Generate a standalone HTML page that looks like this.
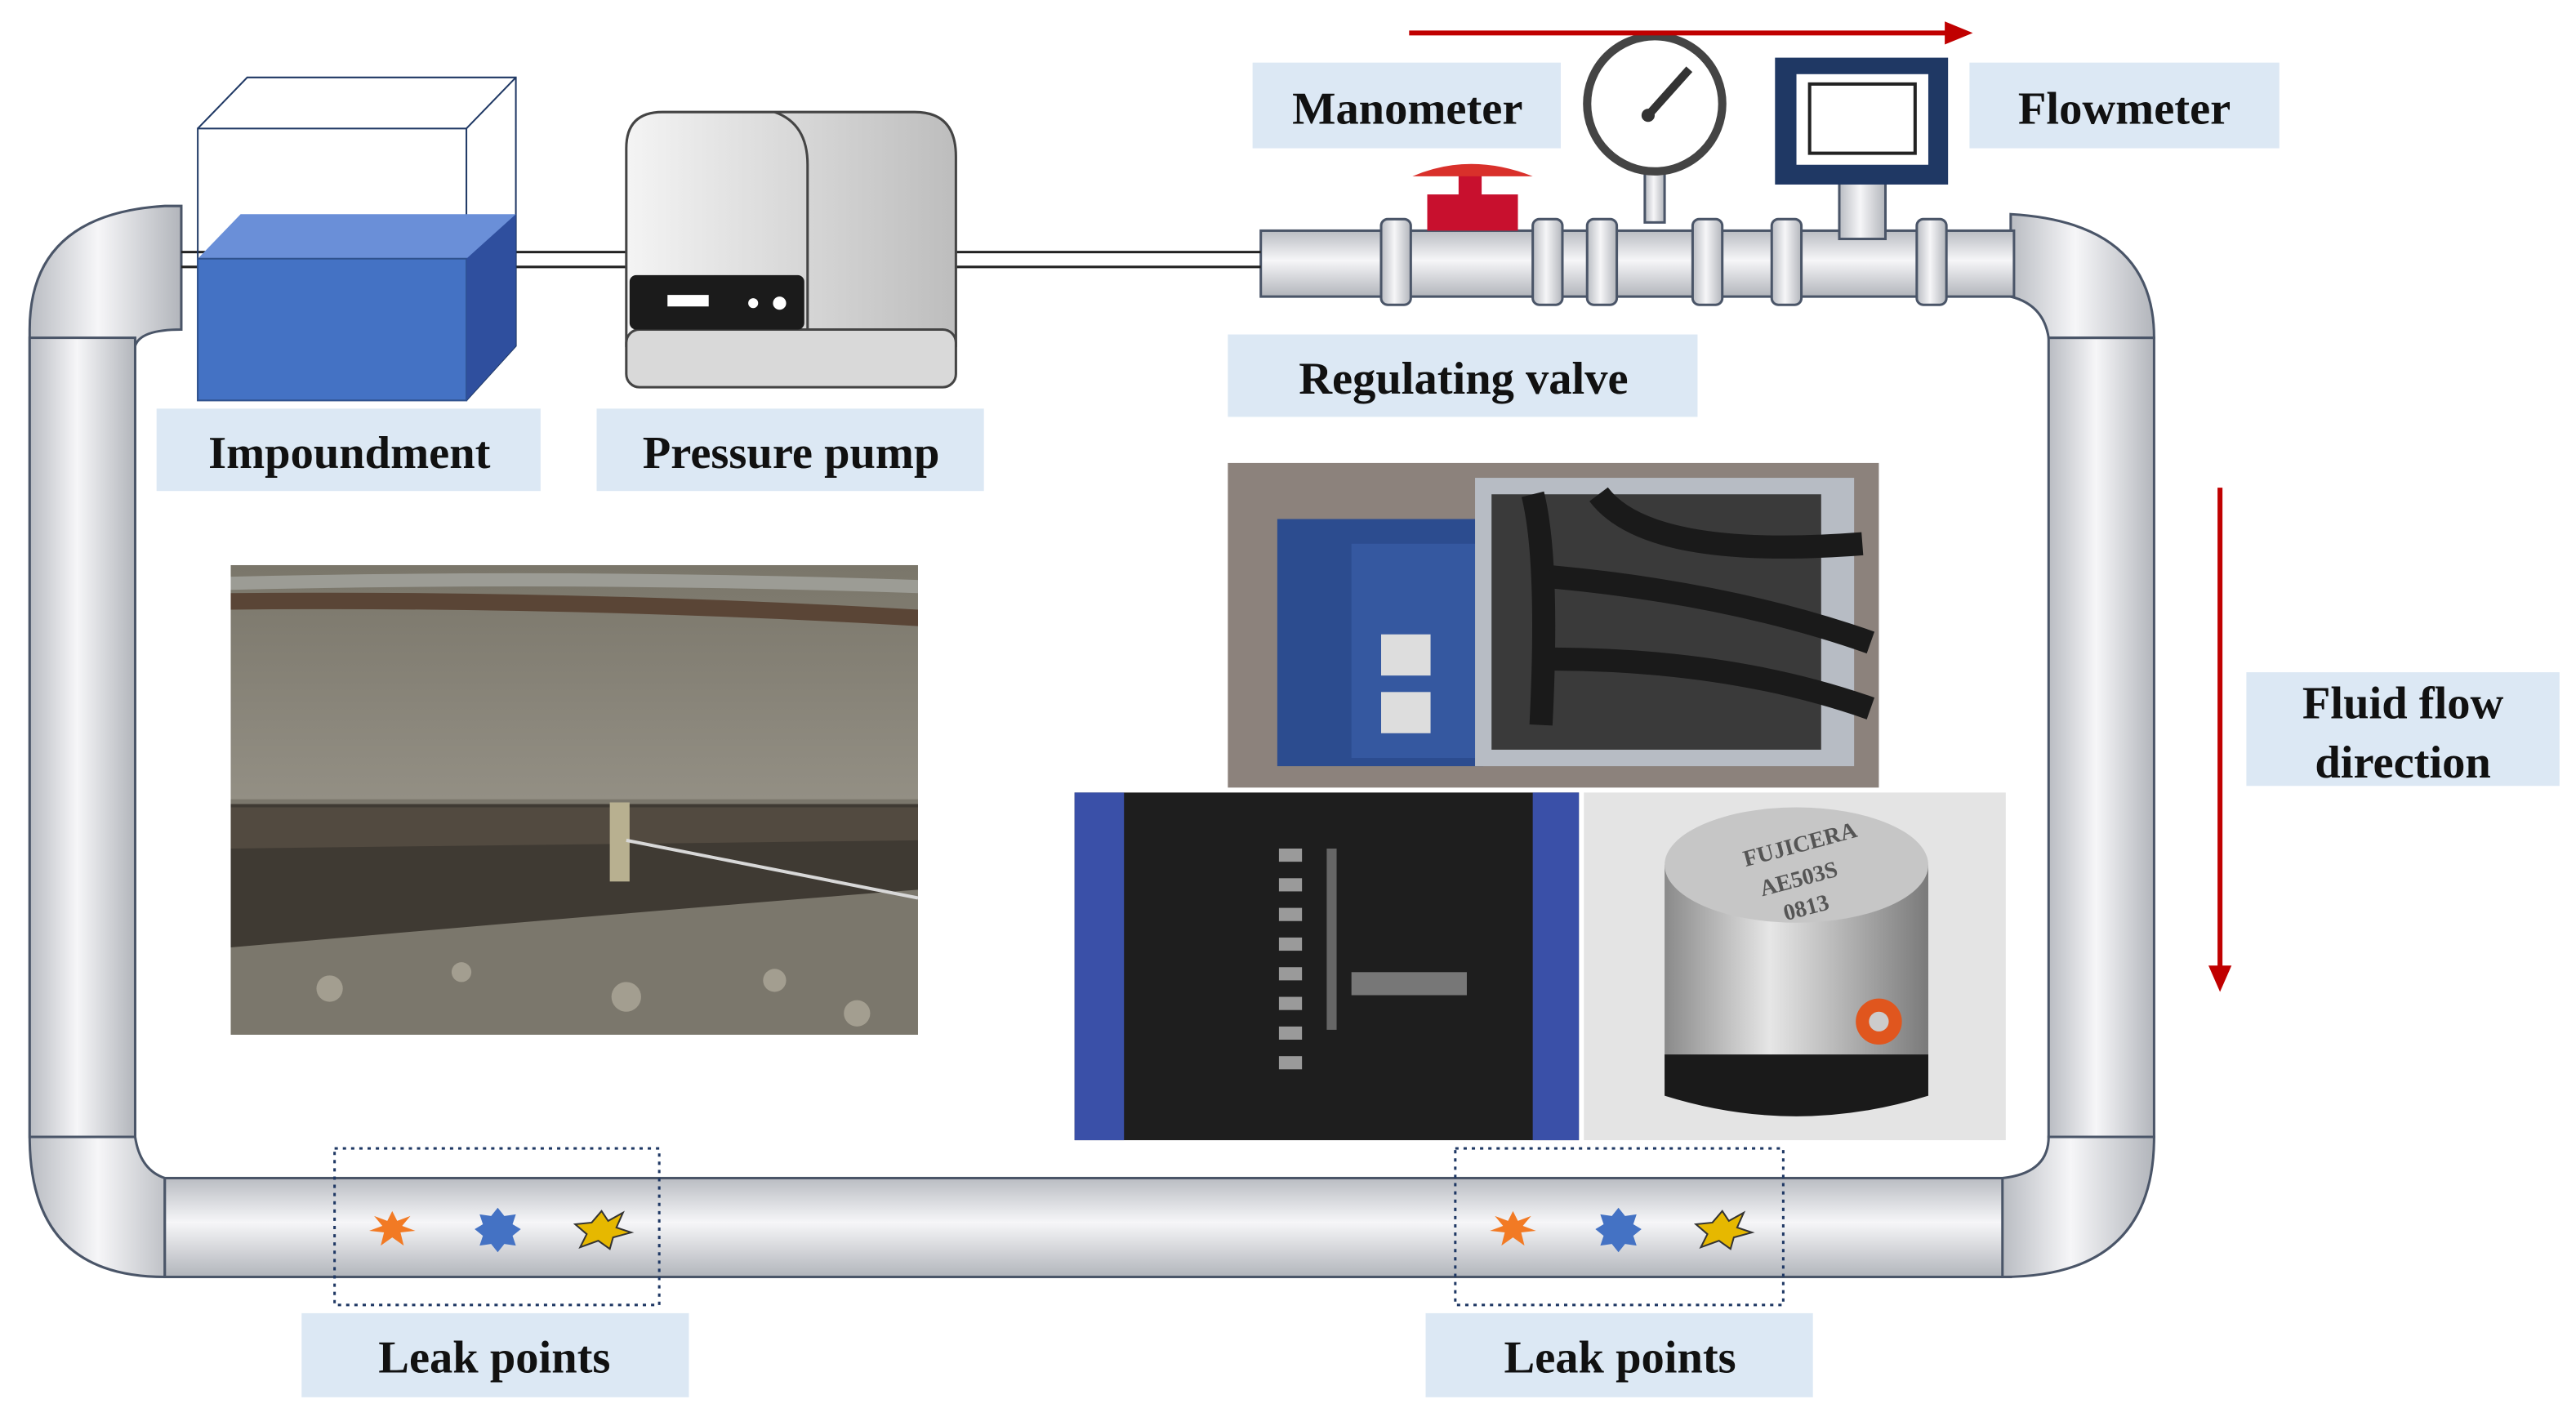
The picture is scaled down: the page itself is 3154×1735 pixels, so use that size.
<!DOCTYPE html>
<html><head><meta charset="utf-8"><style>
html,body{margin:0;padding:0;background:#fff;width:3154px;height:1735px;overflow:hidden}
svg{display:block}
text{font-family:"Liberation Serif",serif;font-weight:bold;fill:#111}
</style></head><body>
<svg width="3154" height="1735" viewBox="0 0 1563 860" preserveAspectRatio="none" xmlns="http://www.w3.org/2000/svg">
<defs>
<linearGradient id="gv" x1="0" x2="1" y1="0" y2="0"><stop offset="0" stop-color="#b9bcc2"/><stop offset="0.45" stop-color="#f6f6f8"/><stop offset="1" stop-color="#b2b5bb"/></linearGradient>
<linearGradient id="gh" x1="0" x2="0" y1="0" y2="1"><stop offset="0" stop-color="#b9bcc2"/><stop offset="0.45" stop-color="#f6f6f8"/><stop offset="1" stop-color="#b2b5bb"/></linearGradient>
<linearGradient id="pump" x1="0" x2="1"><stop offset="0" stop-color="#f4f4f4"/><stop offset="1" stop-color="#bdbdbd"/></linearGradient>
<linearGradient id="grav" x1="0" x2="0" y1="0" y2="1"><stop offset="0" stop-color="#7a766a"/><stop offset="1" stop-color="#938f84"/></linearGradient>
<linearGradient id="cyl" x1="0" x2="1"><stop offset="0" stop-color="#8a8a8a"/><stop offset="0.4" stop-color="#e6e6e6"/><stop offset="1" stop-color="#7a7a7a"/></linearGradient>
</defs>
<rect width="1563" height="860" fill="#fff"/>
<path d="M18 200 Q18 130 100 125 L110 125 L110 200 Q85 200 82 210 L82 690 Q85 710 100 715 L100 775 Q18 775 18 690 Z" fill="url(#gv)" stroke="#4a5568" stroke-width="1.5"/>
<rect x="18" y="205" width="64" height="485" fill="url(#gv)" stroke="#4a5568" stroke-width="1.5"/>
<rect x="100" y="715" width="1120" height="60" fill="url(#gh)" stroke="#4a5568" stroke-width="1.5"/>
<path d="M1215 715 L1215 775 Q1307 775 1307 690 L1243 690 Q1243 712 1215 715 Z" fill="url(#gv)" stroke="#4a5568" stroke-width="1.5"/>
<rect x="1243" y="205" width="64" height="485" fill="url(#gv)" stroke="#4a5568" stroke-width="1.5"/>
<path d="M1220 130 Q1307 135 1307 205 L1243 205 Q1240 185 1220 180 Z" fill="url(#gv)" stroke="#4a5568" stroke-width="1.5"/>
<rect x="765" y="140" width="457" height="40" fill="url(#gh)" stroke="#4a5568" stroke-width="1.5"/>
<line x1="110" y1="153" x2="765" y2="153" stroke="#222" stroke-width="1.5"/>
<line x1="110" y1="162" x2="765" y2="162" stroke="#222" stroke-width="1.5"/>
<g fill="url(#gv)" stroke="#4a5568" stroke-width="1.5">
<rect x="838" y="133" width="18" height="52" rx="4"/><rect x="930" y="133" width="18" height="52" rx="4"/><rect x="963" y="133" width="18" height="52" rx="4"/><rect x="1027" y="133" width="18" height="52" rx="4"/><rect x="1075" y="133" width="18" height="52" rx="4"/><rect x="1163" y="133" width="18" height="52" rx="4"/>
<rect x="998" y="95" width="12" height="40"/><rect x="1116" y="110" width="28" height="35"/>
</g>
<rect x="866" y="118" width="55" height="22" fill="#c8102e"/><rect x="885" y="105" width="14" height="15" fill="#c8102e"/><path d="M857 107 Q892 92 930 107 Z" fill="#d9302b"/>
<circle cx="1004" cy="63" r="41" fill="#fff" stroke="#444" stroke-width="5"/><line x1="1000" y1="70" x2="1025" y2="42" stroke="#333" stroke-width="5"/><circle cx="1000" cy="70" r="4" fill="#333"/>
<rect x="1077" y="35" width="105" height="77" fill="#1f3864"/><rect x="1090" y="45" width="80" height="55" fill="#fff"/><rect x="1098" y="51" width="64" height="42" fill="#fff" stroke="#222" stroke-width="2"/>
<path d="M120 78 L150 47 L313 47 L313 210 L283 243" fill="none" stroke="#1f3864" stroke-width="1"/>
<rect x="120" y="78" width="163" height="165" fill="none" stroke="#1f3864" stroke-width="1"/>
<line x1="283" y1="78" x2="313" y2="47" stroke="#1f3864"/>
<path d="M120 157 L146 130 L313 130 L287 157 Z" fill="#6a8fd8"/>
<rect x="120" y="157" width="163" height="86" fill="#4472c4" stroke="#2f528f"/>
<path d="M283 157 L313 130 L313 210 L283 243 Z" fill="#2f4f9e"/>
<path d="M380 90 Q380 68 402 68 L555 68 Q580 68 580 95 L580 210 L380 210 Z" fill="url(#pump)" stroke="#444" stroke-width="1.5"/>
<path d="M470 68 Q490 75 490 100 L490 210" fill="none" stroke="#444" stroke-width="1.5"/>
<rect x="380" y="200" width="200" height="35" rx="8" fill="#d9d9d9" stroke="#444" stroke-width="1.5"/>
<rect x="382" y="167" width="106" height="33" rx="4" fill="#1b1b1b"/><rect x="405" y="179" width="25" height="7" fill="#fff"/><circle cx="457" cy="184" r="3" fill="#fff"/><circle cx="473" cy="184" r="4" fill="#fff"/>
<g fill="#dce8f4">
<rect x="95" y="248" width="233" height="50"/><rect x="362" y="248" width="235" height="50"/><rect x="760" y="38" width="187" height="52"/><rect x="1195" y="38" width="188" height="52"/><rect x="745" y="203" width="285" height="50"/><rect x="1363" y="408" width="190" height="69"/><rect x="183" y="797" width="235" height="51"/><rect x="865" y="797" width="235" height="51"/>
</g>
<g font-size="28" text-anchor="middle">
<text x="212" y="284">Impoundment</text><text x="480" y="284">Pressure pump</text><text x="854" y="75">Manometer</text><text x="1289" y="75">Flowmeter</text><text x="888" y="239">Regulating valve</text><text x="1458" y="436">Fluid flow</text><text x="1458" y="472">direction</text><text x="300" y="833">Leak points</text><text x="983" y="833">Leak points</text>
</g>
<line x1="855" y1="20" x2="1182" y2="20" stroke="#c00000" stroke-width="3"/><path d="M1197 20 L1180 13 L1180 27 Z" fill="#c00000"/>
<line x1="1347" y1="296" x2="1347" y2="588" stroke="#c00000" stroke-width="3"/><path d="M1347 602 L1340 586 L1354 586 Z" fill="#c00000"/>
<!-- photo 1 -->
<rect x="140" y="343" width="417" height="142" fill="url(#grav)"/>
<path d="M140 350 Q350 345 557 352 L557 360 Q350 353 140 358 Z" fill="#9c9c95"/>
<path d="M140 360 Q350 358 557 370 L557 380 Q350 368 140 370 Z" fill="#5a4536"/>
<rect x="140" y="485" width="417" height="143" fill="#7b776c"/>
<path d="M140 488 L557 488 L557 540 Q450 548 140 575 Z" fill="#3f3a33"/>
<path d="M140 490 L557 490 L557 510 L140 515 Z" fill="#524a40"/>
<rect x="370" y="487" width="12" height="48" fill="#b8b090"/>
<line x1="380" y1="510" x2="557" y2="545" stroke="#d8d8d8" stroke-width="2"/>
<g fill="#a39e90"><circle cx="200" cy="600" r="8"/><circle cx="280" cy="590" r="6"/><circle cx="380" cy="605" r="9"/><circle cx="470" cy="595" r="7"/><circle cx="520" cy="615" r="8"/></g>
<!-- photo 2 -->
<rect x="745" y="281" width="395" height="197" fill="#8c827c"/>
<rect x="775" y="315" width="125" height="150" fill="#2c4c8f"/><rect x="820" y="330" width="75" height="130" fill="#3558a0"/>
<rect x="838" y="385" width="30" height="25" fill="#ddd"/><rect x="838" y="420" width="30" height="25" fill="#ddd"/>
<rect x="895" y="290" width="230" height="175" fill="#b7bcc4"/>
<rect x="905" y="300" width="200" height="155" fill="#3a3a3a"/>
<g stroke="#1a1a1a" stroke-width="14" fill="none"><path d="M930 300 Q940 340 935 440"/><path d="M970 300 Q1000 340 1130 330"/><path d="M940 350 Q1050 360 1135 390"/><path d="M940 400 Q1050 400 1135 430"/></g>
<!-- photo 3 -->
<rect x="652" y="481" width="306" height="211" fill="#1e1e1e"/><rect x="652" y="481" width="30" height="211" fill="#3a50a8"/><rect x="930" y="481" width="28" height="211" fill="#3a50a8"/>
<g fill="#9a9a9a"><rect x="776" y="515" width="14" height="8"/><rect x="776" y="533" width="14" height="8"/><rect x="776" y="551" width="14" height="8"/><rect x="776" y="569" width="14" height="8"/><rect x="776" y="587" width="14" height="8"/><rect x="776" y="605" width="14" height="8"/><rect x="776" y="623" width="14" height="8"/><rect x="776" y="641" width="14" height="8"/></g>
<rect x="805" y="515" width="6" height="110" fill="#666"/><rect x="820" y="590" width="70" height="14" fill="#777"/>
<!-- photo 4 -->
<rect x="961" y="481" width="256" height="211" fill="#e4e4e4"/>
<rect x="1010" y="525" width="160" height="130" fill="url(#cyl)"/><ellipse cx="1090" cy="525" rx="80" ry="35" fill="#c6c6c6"/>
<path d="M1010 640 L1170 640 L1170 665 Q1090 690 1010 665 Z" fill="#1a1a1a"/>
<circle cx="1140" cy="620" r="14" fill="#e0561e"/><circle cx="1140" cy="620" r="6" fill="#ccc"/>
<g font-family="Liberation Sans" font-size="14" fill="#444" transform="rotate(-15 1090 525)"><text x="1060" y="518" style="fill:#555">FUJICERA</text><text x="1065" y="538" style="fill:#555">AE503S</text><text x="1075" y="556" style="fill:#555">0813</text></g>
<rect x="203" y="697" width="197" height="95" fill="none" stroke="#1f3864" stroke-width="1.5" stroke-dasharray="2,3"/>
<rect x="883" y="697" width="199" height="95" fill="none" stroke="#1f3864" stroke-width="1.5" stroke-dasharray="2,3"/>
<g>
<polygon points="238,735 241,741 249,738 244,744 252,747 243,748 245,756 238,751 231,756 233,748 224,747 232,744 227,738 235,741" fill="#f27a24"/>
<polygon points="302,733 306,738 313,737 311,743 316,746 311,750 313,756 306,755 302,760 298,755 291,756 293,750 288,746 293,743 291,737 298,738" fill="#4472c4"/>
<polygon points="365,735 369,741 378,736 374,745 383,748 372,751 370,758 363,753 352,757 356,749 349,743 359,742" fill="#e6b800" stroke="#333"/>
<polygon points="918,735 921,741 929,738 924,744 932,747 923,748 925,756 918,751 911,756 913,748 904,747 912,744 907,738 915,741" fill="#f27a24"/>
<polygon points="982,733 986,738 993,737 991,743 996,746 991,750 993,756 986,755 982,760 978,755 971,756 973,750 968,746 973,743 971,737 978,738" fill="#4472c4"/>
<polygon points="1045,735 1049,741 1058,736 1054,745 1063,748 1052,751 1050,758 1043,753 1032,757 1036,749 1029,743 1039,742" fill="#e6b800" stroke="#333"/>
</g>
</svg>
</body></html>
